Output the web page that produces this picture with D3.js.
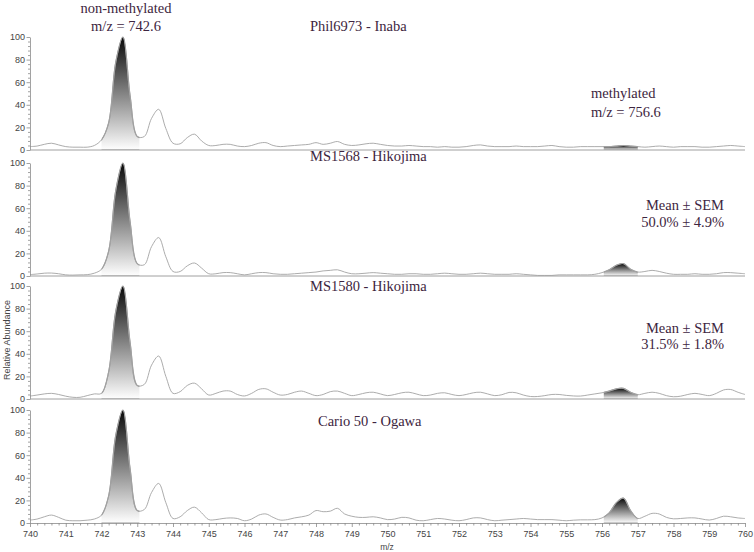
<!DOCTYPE html>
<html>
<head>
<meta charset="utf-8">
<script src="https://cdn.jsdelivr.net/npm/d3@7"></script>
<style>
  body { margin: 0; background: #fff; }
  svg { display: block; }
  .serif { font-family: "Liberation Serif", "Times New Roman", Times, "DejaVu Serif", serif; }
  .sans { font-family: "Liberation Sans", Arial, Helvetica, sans-serif; }
</style>
</head>
<body>
<svg id="chart" width="754" height="552"></svg>
<script>
/* griglia m/z: da 740 a 760 con passo 0.2 (101 punti) */
const mzStart = 740;
const mzStep = 0.2;

/* intensita' relative, 5 valori per ogni unita' m/z */
const phil6973 = [
  3, 3.5, 5, 6, 4.5,        // 740
  3, 2.5, 2.5, 2.5, 4,      // 741
  9, 24, 78, 100, 48,       // 742
  12, 12, 28, 36, 19,       // 743
  6, 5.5, 11, 14, 8,        // 744
  4, 4, 5, 5, 3.5,          // 745
  3, 4, 6, 6.5, 4,          // 746
  3, 3.5, 4, 4.5, 5,        // 747
  6.5, 5, 6, 7.5, 5,        // 748
  4, 4.5, 5.5, 6, 5,        // 749
  4, 3.5, 3.5, 4, 3.5,      // 750
  3, 3, 2.5, 3, 2.5,        // 751
  2.5, 3, 4, 4.5, 3.5,      // 752
  3, 3, 3, 3.5, 3,          // 753
  3, 3, 3.5, 4, 3,          // 754
  2.5, 2.5, 3, 3, 3,        // 755
  3, 3, 3.5, 4, 3.5,        // 756
  3, 2.5, 3, 3.5, 3,        // 757
  2.5, 3, 3, 3, 2.5,        // 758
  2.5, 3, 3.5, 4, 3.5,      // 759
  3                         // 760
];

const ms1568 = [
  1.2, 1.8, 2.5, 2.6, 2,    // 740
  1, 0.8, 1, 1.2, 2.5,      // 741
  6, 22, 76, 100, 48,       // 742
  11, 10, 26, 34, 17,       // 743
  4, 4, 9, 11.5, 7,         // 744
  2, 2, 3, 3, 2,            // 745
  1, 2, 3, 3, 2,            // 746
  1.5, 1.5, 2, 2.5, 3,      // 747
  3.5, 4.5, 5, 5.5, 3.5,    // 748
  2, 2, 2.5, 3, 2.5,        // 749
  2, 1.5, 1.5, 2, 2,        // 750
  1.5, 1.5, 2, 2.5, 2,      // 751
  1.5, 1.5, 2, 2.5, 2,      // 752
  1.5, 1.5, 1.5, 2, 1.5,    // 753
  1, 0.5, 0.5, 0.5, 1,      // 754
  1, 1, 1, 1, 1.5,          // 755
  3, 5.5, 9.5, 11, 6,       // 756
  3.5, 4, 5, 4, 2.5,        // 757
  1.5, 1.5, 1.5, 2, 1.5,    // 758
  1.5, 2, 3, 3, 2.5,        // 759
  2                         // 760
];

const ms1580 = [
  2.6, 3.5, 4.5, 5, 4,      // 740
  2.5, 1.5, 1.5, 3, 4.5,    // 741
  5, 24, 78, 100, 50,       // 742
  12, 13, 30, 38, 20,       // 743
  5, 6.5, 12, 14, 9,        // 744
  3.5, 5, 7, 7, 4,          // 745
  2.7, 5, 8.5, 9, 6,        // 746
  3.5, 4, 6, 7, 5,          // 747
  3, 4, 6.5, 7, 5,          // 748
  3, 4, 5.5, 6, 4.5,        // 749
  3, 4, 5.5, 6, 4.5,        // 750
  3, 3.5, 5, 5.5, 4,        // 751
  3, 4, 5.5, 6, 4.5,        // 752
  3, 3.8, 5.8, 5.5, 3.5,    // 753
  2.2, 2.2, 3, 4, 4,        // 754
  3.2, 2.7, 2.6, 3.5, 4.5,  // 755
  5.5, 7, 9, 9.4, 6,        // 756
  3.8, 5, 6, 5, 3,          // 757
  2, 2.5, 4, 5, 4,          // 758
  3, 5, 8, 8.4, 6,          // 759
  4                         // 760
];

const cario50 = [
  2.6, 3.5, 5.5, 7, 5,      // 740
  2.5, 2, 2, 2.5, 3.5,      // 741
  7, 24, 78, 100, 48,       // 742
  11, 12, 27, 35, 18,       // 743
  4, 5.5, 11, 14, 9,        // 744
  3, 3, 4, 4.5, 4,          // 745
  2, 3.5, 7, 8, 5,          // 746
  2.6, 3, 4.5, 5.5, 7,      // 747
  11, 10, 10.5, 13, 8,      // 748
  6, 5, 5, 5.5, 4.5,        // 749
  3, 3.5, 5, 4.5, 2.5,      // 750
  2, 3, 4, 3.5, 2.5,        // 751
  2, 3, 4.5, 4.5, 3,        // 752
  2, 2.5, 3, 3.5, 4,        // 753
  3.5, 3, 3, 3, 2.5,        // 754
  2, 2.5, 2.8, 2.8, 3,      // 755
  4.5, 9, 18, 22, 11,       // 756
  4, 6, 8.5, 8, 5,          // 757
  3.7, 4, 4.5, 4.5, 3.5,    // 758
  2.6, 4, 6, 5.5, 4.5,      // 759
  4                         // 760
];

const spectra = [phil6973, ms1568, ms1580, cario50];
const panelNames = ["Phil6973 - Inaba", "MS1568 - Hikojima", "MS1580 - Hikojima", "Cario 50 - Ogawa"];
const meanSemLines = [null, ["Mean \u00b1 SEM", "50.0% \u00b1 4.9%"], ["Mean \u00b1 SEM", "31.5% \u00b1 1.8%"], null];
/* finestre m/z dei picchi riempiti: non metilato e metilato */
const peakWindows = [[742.0, 743.06], [756.05, 757.0]];
const yMajorTicks = [0, 20, 40, 60, 80, 100];

/* layout */
const panelTops = [37, 163, 286, 410];
const panelHeight = 113;
const textColor = "#3d2540";

const svg = d3.select("#chart");

const x = d3.scaleLinear().domain([740, 760]).range([30, 745]);

/* gradiente verticale nero -> bianco per i picchi */
const grad = svg.append("defs").append("linearGradient")
    .attr("id", "peakGrad")
    .attr("x1", 0).attr("y1", 0)
    .attr("x2", 0).attr("y2", 1);
grad.append("stop").attr("offset", "0%").attr("stop-color", "#080808");
grad.append("stop").attr("offset", "100%").attr("stop-color", "#ffffff");

const mzOf = i => mzStart + i * mzStep;

spectra.forEach(function (values, p) {
    const top = panelTops[p];
    const base = top + panelHeight;
    const y = d3.scaleLinear().domain([0, 100]).range([base, top]);
    const g = svg.append("g").attr("class", "panel");

    const line = d3.line()
        .x((d, i) => x(mzOf(i)))
        .y(d => y(d))
        .curve(d3.curveCatmullRom.alpha(0.5));

    /* picchi riempiti con gradiente */
    peakWindows.forEach(function (w, k) {
        const clipId = `clip-${p}-${k}`;
        g.append("clipPath").attr("id", clipId)
            .append("rect")
            .attr("x", x(w[0]))
            .attr("y", top - 10)
            .attr("width", x(w[1]) - x(w[0]))
            .attr("height", panelHeight + 10);

        const pts = values
            .map((v, i) => ({ mz: mzOf(i), v: v }))
            .filter(d => d.mz >= w[0] - 0.45 && d.mz <= w[1] + 0.45);

        const area = d3.area()
            .x(d => x(d.mz))
            .y0(base)
            .y1(d => y(d.v))
            .curve(d3.curveCatmullRom.alpha(0.5));

        g.append("path")
            .datum(pts)
            .attr("d", area)
            .attr("clip-path", `url(#${clipId})`)
            .attr("fill", "url(#peakGrad)")
            .attr("stroke", "#9a9a9a")
            .attr("stroke-width", 1.2);
    });

    /* spettro */
    g.append("path")
        .datum(values)
        .attr("d", line)
        .attr("fill", "none")
        .attr("stroke", "#a3a3a3")
        .attr("stroke-width", 0.9);

    /* asse Y: tick principali e secondari */
    g.append("g")
        .attr("transform", "translate(30,0)")
        .call(d3.axisLeft(y).tickValues(yMajorTicks).tickSize(3.5).tickSizeOuter(0).tickPadding(1.5));
    const minorY = d3.range(0, 101, 4).filter(v => v % 20 !== 0);
    g.append("g")
        .attr("transform", "translate(30,0)")
        .call(d3.axisLeft(y).tickValues(minorY).tickSize(2).tickFormat(""))
        .call(s => s.select(".domain").remove());

    /* linea di base / asse X */
    if (p < spectra.length - 1) {
        g.append("line")
            .attr("x1", 30).attr("x2", 745)
            .attr("y1", base).attr("y2", base)
            .attr("stroke", "#a0a0a0")
            .attr("stroke-width", 1);
    } else {
        g.append("g")
            .attr("transform", `translate(0,${base})`)
            .call(d3.axisBottom(x).tickValues(d3.range(740, 761)).tickSize(4).tickSizeOuter(0).tickPadding(4).tickFormat(d3.format("d")));
        const minorX = d3.range(0, 101).filter(i => i % 5 !== 0).map(mzOf);
        g.append("g")
            .attr("transform", `translate(0,${base})`)
            .call(d3.axisBottom(x).tickValues(minorX).tickSize(2.5).tickFormat(""))
            .call(s => s.select(".domain").remove());
    }

    /* nome del ceppo */
    g.append("text")
        .attr("class", "serif")
        .attr("x", p === 3 ? 318 : 310)
        .attr("y", [31, 161, 291, 426][p])
        .attr("font-size", 14.5)
        .attr("fill", textColor)
        .text(panelNames[p]);

    /* media +- SEM */
    if (meanSemLines[p]) {
        const yb = [0, 210, 332.5, 0][p];
        meanSemLines[p].forEach(function (t, j) {
            g.append("text")
                .attr("class", "serif")
                .attr("x", 724)
                .attr("y", yb + j * 16.5)
                .attr("text-anchor", "end")
                .attr("font-size", 14.5)
                .attr("fill", textColor)
                .text(t);
        });
    }
});

/* stile assi */
svg.selectAll(".domain, .tick line").attr("stroke", "#8a8a8a").attr("stroke-width", 0.8);
svg.selectAll(".tick text")
    .attr("class", "sans")
    .attr("font-family", null)
    .attr("font-size", 9)
    .attr("fill", "#444");
svg.selectAll("g[font-family]").attr("font-family", null);

/* annotazioni dei picchi */
const notes = [
    { t: "non-methylated", x: 126, y: 13, a: "middle" },
    { t: "m/z = 742.6", x: 126, y: 30.5, a: "middle" },
    { t: "methylated", x: 591, y: 98, a: "start" },
    { t: "m/z = 756.6", x: 591, y: 117, a: "start" }
];
notes.forEach(n => {
    svg.append("text")
        .attr("class", "serif")
        .attr("x", n.x).attr("y", n.y)
        .attr("text-anchor", n.a)
        .attr("font-size", 14.5)
        .attr("fill", textColor)
        .text(n.t);
});

/* etichette degli assi */
svg.append("text")
    .attr("class", "sans")
    .attr("transform", "translate(10,340) rotate(-90)")
    .attr("text-anchor", "middle")
    .attr("font-size", 9)
    .attr("fill", "#444")
    .text("Relative Abundance");

svg.append("text")
    .attr("class", "sans")
    .attr("x", 387).attr("y", 549.5)
    .attr("text-anchor", "middle")
    .attr("font-size", 8.5)
    .attr("fill", "#444")
    .text("m/z");
</script>
</body>
</html>
